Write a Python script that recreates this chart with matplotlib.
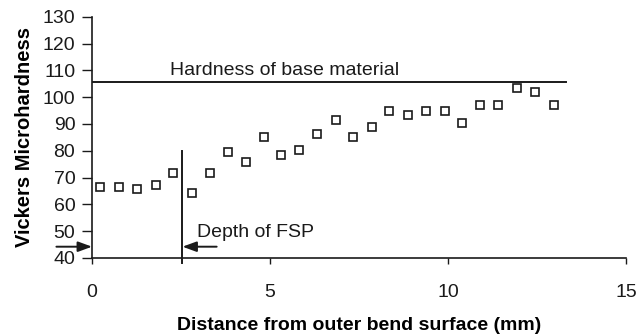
import matplotlib
matplotlib.use("Agg")
import matplotlib.pyplot as plt

# Data
distance_mm = [0.22, 0.77, 1.26, 1.79, 2.28, 2.80, 3.30, 3.81, 4.32, 4.83, 5.31, 5.82, 6.32,
               6.85, 7.34, 7.86, 8.35, 8.88, 9.37, 9.90, 10.40, 10.90, 11.40, 11.94, 12.44, 12.96]
hardness = [66.5, 66.5, 65.6, 67.1, 71.7, 64.2, 71.7, 79.4, 75.7, 85.2, 78.6, 80.3, 86.2,
            91.3, 85.2, 89.0, 94.7, 93.3, 94.7, 94.7, 90.3, 97.2, 97.2, 103.6, 101.8, 97.2]
base_hardness = 105.7
base_line_end = 13.3
fsp_depth = 2.54
fsp_line_top = 80
x_ticks = [0, 5, 10, 15]
y_ticks = [40, 50, 60, 70, 80, 90, 100, 110, 120, 130]

plt.rcParams['font.family'] = ['Liberation Sans', 'DejaVu Sans']

fig = plt.figure(figsize=(6.39, 3.35), dpi=100)
ax = fig.add_axes([0.144, 0.23, 0.836, 0.72])

ax.plot(distance_mm, hardness, linestyle='none', marker='s', markersize=6,
        markerfacecolor='white', markeredgecolor='#1a1a1a', markeredgewidth=1.2, clip_on=False)

ax.plot([0, base_line_end], [base_hardness, base_hardness], color='#1a1a1a', lw=1.4)
ax.plot([fsp_depth, fsp_depth], [38, fsp_line_top], color='#1a1a1a', lw=1.4, clip_on=False)

ax.text(2.2, 106.8, 'Hardness of base material', fontsize=14, ha='left', va='bottom', color='#1a1a1a')
ax.text(2.95, 49.5, 'Depth of FSP', fontsize=14, ha='left', va='center', color='#1a1a1a')

arrow_props = dict(arrowstyle='-|>,head_length=0.6,head_width=0.22', color='#1a1a1a',
                   lw=1.4, mutation_scale=14, shrinkA=0, shrinkB=0)
ax.annotate('', xy=(0, 44.2), xytext=(-1.0, 44.2), arrowprops=arrow_props, annotation_clip=False)
ax.annotate('', xy=(fsp_depth, 44.2), xytext=(3.5, 44.2), arrowprops=arrow_props, annotation_clip=False)

ax.set_xlim(0, 15)
ax.set_ylim(40, 130)
ax.set_xticks(x_ticks)
ax.set_yticks(y_ticks)
ax.tick_params(axis='both', direction='out', width=1, labelsize=14, colors='#1a1a1a')
ax.tick_params(axis='x', length=4, pad=15)
ax.tick_params(axis='y', length=7, pad=5)

for s in ['top', 'right']:
    ax.spines[s].set_visible(False)
for s in ['left', 'bottom']:
    ax.spines[s].set_linewidth(1.2)
    ax.spines[s].set_color('#1a1a1a')

ax.set_xlabel('Distance from outer bend surface (mm)', fontsize=14, fontweight='bold', labelpad=11)
ax.set_ylabel('Vickers Microhardness', fontsize=14.5, fontweight='bold', labelpad=6)

fig.savefig('out.png', dpi=100)
